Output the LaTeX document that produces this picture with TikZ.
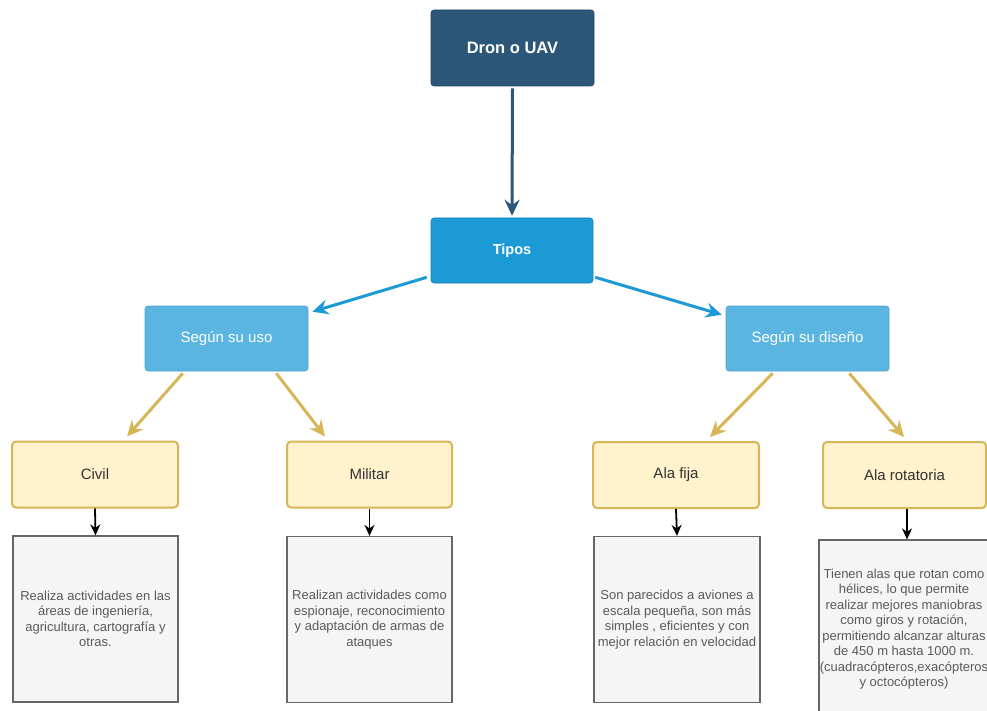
\documentclass[tikz,border=0pt]{standalone}
\usepackage{fontspec}
\setmainfont{Liberation Sans}
\usetikzlibrary{arrows.meta,calc}
\definecolor{darkb}{HTML}{2C5778}
\definecolor{midb}{HTML}{1C9AD6}
\definecolor{lightb}{HTML}{5BB5E1}
\definecolor{goldfill}{HTML}{FFF2CC}
\definecolor{golddraw}{HTML}{D6B656}
\definecolor{grayfill}{HTML}{F5F5F5}
\definecolor{graydraw}{HTML}{666666}
\definecolor{bodytext}{HTML}{5A5A5A}
\tikzset{
  topbox/.style={rectangle, rounded corners=3pt, fill=darkb, draw=darkb!80!black, line width=0.6pt, text=white,
    font=\fontsize{16.5}{19}\selectfont\bfseries, inner sep=0pt},
  tipbox/.style={rectangle, rounded corners=3pt, fill=midb, draw=midb!85!black, line width=0.6pt, text=white,
    font=\fontsize{14.5}{17}\selectfont\bfseries, inner sep=0pt, minimum width=162, minimum height=65},
  catbox/.style={rectangle, rounded corners=3pt, fill=lightb, draw=lightb!90!black, line width=0.6pt, text=white,
    font=\fontsize{15}{18}\selectfont, inner sep=0pt, minimum width=163, minimum height=65},
  subbox/.style={rectangle, rounded corners=4pt, fill=goldfill, draw=golddraw, line width=2pt, text=black!80,
    font=\fontsize{15}{18}\selectfont, inner sep=0pt, minimum height=66},
  descbox/.style={rectangle, fill=grayfill, draw=graydraw, line width=1.2pt, text=bodytext,
    font=\fontsize{13}{15.5}\selectfont, align=center, inner sep=0pt},
  tipA/.style={-{Stealth[length=16pt,width=15pt,inset=5.5pt]}},
  tipB/.style={-{Stealth[length=11pt,width=10pt,inset=3.5pt]}},
  darkarrow/.style={tipA, draw=darkb, line width=3pt},
  bluearrow/.style={tipA, draw=midb, line width=3pt},
  goldarrow/.style={tipA, draw=golddraw, line width=3pt},
  blackarrow/.style={tipB, draw=black, line width=1.8pt},
}
\begin{document}
\begin{tikzpicture}[x=1pt,y=-1pt]
\clip (0,0) rectangle (987,711);
\fill[white] (0,0) rectangle (987,711);
% nodes
\node[topbox, minimum width=163, minimum height=76] (dron) at (512.5,48) {Dron o UAV};
\node[tipbox] (tipos) at (512,250.5) {Tipos};
\node[catbox] (uso) at (226.5,338.5) {Según su uso};
\node[catbox] (dis) at (807.5,338.5) {Según su diseño};
\node[subbox, minimum width=166] (civil) at (95,474.5) {Civil};
\node[subbox, minimum width=165] (militar) at (369.5,474.5) {Militar};
\node[subbox, minimum width=166] (fija) at (676,475) {Ala fija};
\node[subbox, minimum width=163] (rot) at (904.5,475) {Ala rotatoria};
\node[descbox, minimum width=165, minimum height=166] (civtext) at (95.5,619) {Realiza actividades en las\\áreas de ingeniería,\\agricultura, cartografía y\\otras.};
\node[descbox, minimum width=165, minimum height=166] (miltext) at (369.5,619.5) {Realizan actividades como\\espionaje, reconocimiento\\y adaptación de armas de\\ataques};
\node[descbox, minimum width=166, minimum height=166] (fijatext) at (677,619.5) {Son parecidos a aviones a\\escala pequeña, son más\\simples , eficientes y con\\mejor relación en velocidad};
\node[descbox, minimum width=170, minimum height=178] (rottext) at (904,629) {Tienen alas que rotan como\\hélices, lo que permite\\realizar mejores maniobras\\como giros y rotación,\\permitiendo alcanzar alturas\\de 450 m hasta 1000 m.\\(cuadracópteros,exacópteros\\y octocópteros)};
% connectors
\draw[darkarrow] ($(dron.south)+(0,2)$) -- ($(tipos.north)+(0,-2)$);
\draw[bluearrow] ($(tipos.south west)+(-4,-6)$) -- ($(uso.north east)+(4,6)$);
\draw[bluearrow] ($(tipos.south east)+(2,-6)$) -- ($(dis.north west)+(-4,9)$);
\draw[goldarrow] ($(uso.south west)+(38,2)$) -- ($(civil.north)+(32,-4)$);
\draw[goldarrow] ($(uso.south east)+(-32,2)$) -- ($(militar.north west)+(39,-4)$);
\draw[goldarrow] ($(dis.south west)+(47,2)$) -- ($(fija.north)+(34,-4)$);
\draw[goldarrow] ($(dis.south east)+(-40,2)$) -- ($(rot.north west)+(82,-4)$);
\draw[blackarrow] (civil.south) -- (civtext.north);
\draw[blackarrow] (militar.south) -- (miltext.north);
\draw[blackarrow] (fija.south) -- (fijatext.north);
\draw[blackarrow] ($(rot.south)+(2.5,0)$) -- ($(rottext.north)+(3,0)$);
\end{tikzpicture}
\end{document}
